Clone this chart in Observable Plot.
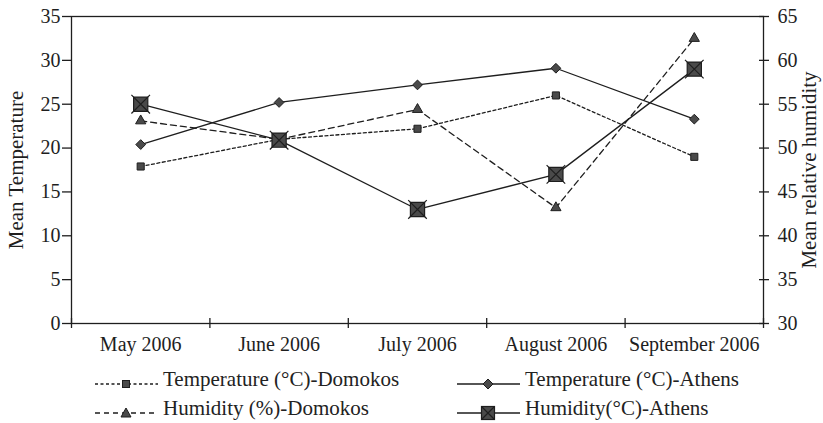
<!DOCTYPE html>
<html>
<head>
<meta charset="utf-8">
<script src="https://cdn.jsdelivr.net/npm/d3@7"></script>
<script src="https://cdn.jsdelivr.net/npm/@observablehq/plot@0.6"></script>
<style>
  html, body { margin: 0; padding: 0; background: #fff; }
  #chart { width: 823px; }
  #legend { position: relative; width: 823px; height: 63px; }
  .item { position: absolute; height: 28px; line-height: 28px; white-space: nowrap; font-family: 'Liberation Serif', 'DejaVu Serif', serif; font-size: 21px; color: #222; }
  .item svg { position: absolute; top: 9px; left: 0; }
  .item span { position: absolute; top: 0; left: 68px; font-family: 'Liberation Serif', 'DejaVu Serif', serif; }
</style>
</head>
<body>
<div id="chart"></div>
<div id="legend"></div>
<script>
const months = ["May 2006", "June 2006", "July 2006", "August 2006", "September 2006"];
const tempDomokos = [17.9, 21.0, 22.2, 26.0, 19.0];
const tempAthens  = [20.4, 25.2, 27.2, 29.1, 23.3];
const humDomokos  = [53.1, 51.0, 54.4, 43.2, 62.5];
const humAthens   = [55.0, 50.9, 43.0, 47.0, 59.0];
const tempTicks = [0, 5, 10, 15, 20, 25, 30, 35];
const humTicks  = [30, 35, 40, 45, 50, 55, 60, 65];
const seriesNames = ["Temperature (°C)-Domokos", "Temperature (°C)-Athens", "Humidity (%)-Domokos", "Humidity(°C)-Athens"];
const yLabelLeft = "Mean Temperature";
const yLabelRight = "Mean relative humidity";

const tMin = tempTicks[0], tMax = tempTicks[tempTicks.length - 1];
const hMin = humTicks[0], hMax = humTicks[humTicks.length - 1];
const humToTemp = h => tMin + (h - hMin) * (tMax - tMin) / (hMax - hMin);
const tempToHum = t => hMin + (t - tMin) * (hMax - hMin) / (tMax - tMin);

const rows = months.map((m, i) => ({
  pos: i + 0.5,
  tD: tempDomokos[i], tA: tempAthens[i],
  hD: humToTemp(humDomokos[i]), hA: humToTemp(humAthens[i])
}));

const ink = "#1e1e1e";
const fillGray = "#4a4a4a";

const plot = Plot.plot({
  width: 823,
  height: 360,
  marginLeft: 71,
  marginRight: 60,
  marginTop: 16,
  marginBottom: 37,
  style: { fontFamily: "'Liberation Serif', serif", fontSize: "20px", color: ink, background: "#fff" },
  x: { domain: [0, months.length] },
  y: { domain: [tMin, tMax] },
  marks: [
    Plot.frame({ stroke: ink, strokeWidth: 1.3 }),
    Plot.axisY({ anchor: "left", ticks: tempTicks, tickSize: 9, tickPadding: 2, label: null, strokeWidth: 1.3 }),
    Plot.axisY({ anchor: "left", ticks: [], label: yLabelLeft, labelAnchor: "center", labelOffset: 63, labelArrow: "none", fontSize: 21 }),
    Plot.axisY({ anchor: "right", ticks: tempTicks, tickSize: 10, dx: -5, tickPadding: 9, tickFormat: d => tempToHum(d), label: null, strokeWidth: 1.3 }),
    Plot.axisY({ anchor: "right", ticks: [], label: yLabelRight, labelAnchor: "center", labelOffset: 52, labelArrow: "none", fontSize: 21 }),
    Plot.axisX({ ticks: d3.range(months.length + 1), tickSize: 10, dy: -5, tickFormat: () => "", label: null, strokeWidth: 1.3 }),
    Plot.axisX({ ticks: months.map((m, i) => i + 0.5), tickSize: 0, tickPadding: 13, tickFormat: v => months[Math.floor(v)], label: null }),
    // lines
    Plot.line(rows, { x: "pos", y: "tD", stroke: ink, strokeWidth: 1.3, strokeDasharray: "3,2.5" }),
    Plot.line(rows, { x: "pos", y: "hD", stroke: ink, strokeWidth: 1.3, strokeDasharray: "6,4" }),
    Plot.line(rows, { x: "pos", y: "tA", stroke: ink, strokeWidth: 1.3 }),
    Plot.line(rows, { x: "pos", y: "hA", stroke: ink, strokeWidth: 1.3 }),
    // markers
    Plot.dot(rows, { x: "pos", y: "tD", symbol: "square", r: 4, fill: fillGray, stroke: ink, strokeWidth: 1 }),
    Plot.dot(rows, { x: "pos", y: "tA", symbol: "diamond2", r: 4.4, fill: fillGray, stroke: ink, strokeWidth: 1 }),
    Plot.dot(rows, { x: "pos", y: "hD", symbol: "triangle", r: 3.8, fill: fillGray, stroke: ink, strokeWidth: 1 }),
    Plot.dot(rows, { x: "pos", y: "hA", symbol: "square", r: 8, fill: fillGray, stroke: ink, strokeWidth: 1.2 }),
    Plot.dot(rows, { x: "pos", y: "hA", symbol: "times", r: 8.5, stroke: ink, strokeWidth: 1.2 })
  ]
});
document.getElementById("chart").appendChild(plot);

// Legend
const legendItems = [
  { name: seriesNames[0], dash: "3,2.5", marker: "sq",   left: 95,  top: 5 },
  { name: seriesNames[1], dash: null,    marker: "dia",  left: 457, top: 5 },
  { name: seriesNames[2], dash: "5,4",   marker: "tri",  left: 95,  top: 34 },
  { name: seriesNames[3], dash: null,    marker: "bigx", left: 457, top: 34 }
];
const legend = document.getElementById("legend");
legendItems.forEach(it => {
  const div = document.createElement("div");
  div.className = "item";
  div.style.left = it.left + "px";
  div.style.top = it.top + "px";
  let m = "";
  if (it.marker === "sq") m = `<rect x="27.5" y="6.5" width="7" height="7" fill="${fillGray}" stroke="${ink}"/>`;
  if (it.marker === "dia") m = `<path d="M31,5 L36,10 L31,15 L26,10Z" fill="${fillGray}" stroke="${ink}"/>`;
  if (it.marker === "tri") m = `<path d="M31,5 L36,14 L26,14Z" fill="${fillGray}" stroke="${ink}"/>`;
  if (it.marker === "bigx") m = `<rect x="24.5" y="3.5" width="13" height="13" fill="${fillGray}" stroke="${ink}" stroke-width="1.2"/><path d="M25,4 L37,16 M37,4 L25,16" stroke="${ink}" stroke-width="1.2"/>`;
  div.innerHTML = `<svg width="64" height="20"><line x1="0" y1="10" x2="63" y2="10" stroke="${ink}" stroke-width="1.3" ${it.dash ? `stroke-dasharray="${it.dash}"` : ""}/>${m}</svg><span>${it.name}</span>`;
  legend.appendChild(div);
});
</script>
</body>
</html>
